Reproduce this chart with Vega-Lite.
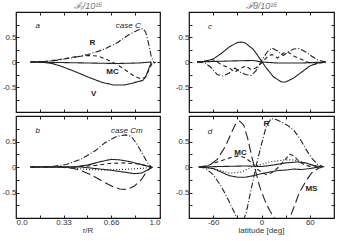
{
"$schema": "https://vega.github.io/schema/vega-lite/v6.json",
"padding": {"left": 1, "top": 0, "right": 4, "bottom": 0},
"background": "white",
"config": {
 "font": "Liberation Sans",
 "view": {"stroke": "#111", "strokeWidth": 1.2},
 "axis": {"domain": false, "grid": false, "tickColor": "#222", "tickSize": -3, "labelFontSize": 8, "labelColor": "#333", "titleFontSize": 8, "titleFontWeight": "normal", "titleColor": "#333", "labelPadding": 3, "titlePadding": 1},
 "concat": {"spacing": 0}
},
"datasets": {
 "lines": [
  {"p":"a","s":"R","x":0.1,"y":0},{"p":"a","s":"R","x":0.2,"y":0.01},{"p":"a","s":"R","x":0.3,"y":0.04},{"p":"a","s":"R","x":0.4,"y":0.09},{"p":"a","s":"R","x":0.5,"y":0.15},{"p":"a","s":"R","x":0.6,"y":0.24},{"p":"a","s":"R","x":0.7,"y":0.38},{"p":"a","s":"R","x":0.78,"y":0.54},{"p":"a","s":"R","x":0.84,"y":0.63},{"p":"a","s":"R","x":0.88,"y":0.67},{"p":"a","s":"R","x":0.9,"y":0.6},{"p":"a","s":"R","x":0.92,"y":0.38},{"p":"a","s":"R","x":0.94,"y":0.1},{"p":"a","s":"R","x":0.96,"y":-0.02},{"p":"a","s":"R","x":0.97,"y":0},
  {"p":"a","s":"MC","x":0.1,"y":0},{"p":"a","s":"MC","x":0.2,"y":0.01},{"p":"a","s":"MC","x":0.3,"y":0.05},{"p":"a","s":"MC","x":0.4,"y":0.1},{"p":"a","s":"MC","x":0.5,"y":0.13},{"p":"a","s":"MC","x":0.57,"y":0.12},{"p":"a","s":"MC","x":0.63,"y":0.05},{"p":"a","s":"MC","x":0.69,"y":-0.03},{"p":"a","s":"MC","x":0.75,"y":-0.14},{"p":"a","s":"MC","x":0.82,"y":-0.28},{"p":"a","s":"MC","x":0.87,"y":-0.34},{"p":"a","s":"MC","x":0.9,"y":-0.3},{"p":"a","s":"MC","x":0.93,"y":-0.12},{"p":"a","s":"MC","x":0.95,"y":0},
  {"p":"a","s":"V","x":0.1,"y":0},{"p":"a","s":"V","x":0.2,"y":-0.01},{"p":"a","s":"V","x":0.25,"y":-0.03},{"p":"a","s":"V","x":0.3,"y":-0.07},{"p":"a","s":"V","x":0.4,"y":-0.18},{"p":"a","s":"V","x":0.5,"y":-0.3},{"p":"a","s":"V","x":0.6,"y":-0.41},{"p":"a","s":"V","x":0.68,"y":-0.46},{"p":"a","s":"V","x":0.75,"y":-0.46},{"p":"a","s":"V","x":0.8,"y":-0.43},{"p":"a","s":"V","x":0.85,"y":-0.39},{"p":"a","s":"V","x":0.88,"y":-0.37},{"p":"a","s":"V","x":0.9,"y":-0.3},{"p":"a","s":"V","x":0.92,"y":-0.15},{"p":"a","s":"V","x":0.94,"y":0},
  {"p":"a","s":"S","x":0.1,"y":0},{"p":"a","s":"S","x":0.3,"y":-0.01},{"p":"a","s":"S","x":0.5,"y":-0.02},{"p":"a","s":"S","x":0.7,"y":-0.03},{"p":"a","s":"S","x":0.85,"y":-0.02},{"p":"a","s":"S","x":0.94,"y":0},

  {"p":"b","s":"R","x":0.1,"y":0},{"p":"b","s":"R","x":0.25,"y":0.01},{"p":"b","s":"R","x":0.35,"y":0.05},{"p":"b","s":"R","x":0.45,"y":0.15},{"p":"b","s":"R","x":0.55,"y":0.32},{"p":"b","s":"R","x":0.62,"y":0.48},{"p":"b","s":"R","x":0.7,"y":0.6},{"p":"b","s":"R","x":0.76,"y":0.63},{"p":"b","s":"R","x":0.8,"y":0.6},{"p":"b","s":"R","x":0.84,"y":0.45},{"p":"b","s":"R","x":0.88,"y":0.25},{"p":"b","s":"R","x":0.91,"y":0.1},{"p":"b","s":"R","x":0.94,"y":0},
  {"p":"b","s":"V","x":0.1,"y":0},{"p":"b","s":"V","x":0.4,"y":0},{"p":"b","s":"V","x":0.5,"y":0.04},{"p":"b","s":"V","x":0.58,"y":0.1},{"p":"b","s":"V","x":0.66,"y":0.15},{"p":"b","s":"V","x":0.72,"y":0.14},{"p":"b","s":"V","x":0.8,"y":0.1},{"p":"b","s":"V","x":0.87,"y":0.05},{"p":"b","s":"V","x":0.94,"y":0},
  {"p":"b","s":"MS","x":0.1,"y":0},{"p":"b","s":"MS","x":0.3,"y":0},{"p":"b","s":"MS","x":0.4,"y":-0.03},{"p":"b","s":"MS","x":0.45,"y":-0.07},{"p":"b","s":"MS","x":0.52,"y":-0.15},{"p":"b","s":"MS","x":0.6,"y":-0.28},{"p":"b","s":"MS","x":0.67,"y":-0.38},{"p":"b","s":"MS","x":0.72,"y":-0.43},{"p":"b","s":"MS","x":0.77,"y":-0.44},{"p":"b","s":"MS","x":0.82,"y":-0.38},{"p":"b","s":"MS","x":0.87,"y":-0.25},{"p":"b","s":"MS","x":0.91,"y":-0.08},{"p":"b","s":"MS","x":0.94,"y":0},
  {"p":"b","s":"MC","x":0.1,"y":0},{"p":"b","s":"MC","x":0.4,"y":0},{"p":"b","s":"MC","x":0.55,"y":0.03},{"p":"b","s":"MC","x":0.65,"y":0.07},{"p":"b","s":"MC","x":0.75,"y":0.08},{"p":"b","s":"MC","x":0.85,"y":0.06},{"p":"b","s":"MC","x":0.94,"y":0},
  {"p":"b","s":"T","x":0.3,"y":0},{"p":"b","s":"T","x":0.4,"y":-0.02},{"p":"b","s":"T","x":0.5,"y":-0.05},{"p":"b","s":"T","x":0.6,"y":-0.06},{"p":"b","s":"T","x":0.7,"y":-0.05},{"p":"b","s":"T","x":0.8,"y":-0.04},{"p":"b","s":"T","x":0.9,"y":-0.02},{"p":"b","s":"T","x":0.94,"y":0},
  {"p":"b","s":"S","x":0.1,"y":0},{"p":"b","s":"S","x":0.45,"y":0},{"p":"b","s":"S","x":0.55,"y":-0.03},{"p":"b","s":"S","x":0.65,"y":-0.06},{"p":"b","s":"S","x":0.75,"y":-0.1},{"p":"b","s":"S","x":0.82,"y":-0.13},{"p":"b","s":"S","x":0.87,"y":-0.12},{"p":"b","s":"S","x":0.92,"y":-0.05},{"p":"b","s":"S","x":0.95,"y":0},

  {"p":"c","s":"V","x":-80,"y":0},{"p":"c","s":"V","x":-70,"y":0.01},{"p":"c","s":"V","x":-60,"y":0.06},{"p":"c","s":"V","x":-50,"y":0.17},{"p":"c","s":"V","x":-40,"y":0.3},{"p":"c","s":"V","x":-30,"y":0.39},{"p":"c","s":"V","x":-25,"y":0.4},{"p":"c","s":"V","x":-20,"y":0.38},{"p":"c","s":"V","x":-10,"y":0.25},{"p":"c","s":"V","x":0,"y":0.02},{"p":"c","s":"V","x":5,"y":-0.1},{"p":"c","s":"V","x":15,"y":-0.3},{"p":"c","s":"V","x":25,"y":-0.4},{"p":"c","s":"V","x":30,"y":-0.4},{"p":"c","s":"V","x":40,"y":-0.32},{"p":"c","s":"V","x":50,"y":-0.2},{"p":"c","s":"V","x":60,"y":-0.08},{"p":"c","s":"V","x":70,"y":-0.02},{"p":"c","s":"V","x":80,"y":0},
  {"p":"c","s":"R","x":-80,"y":0},{"p":"c","s":"R","x":-70,"y":-0.02},{"p":"c","s":"R","x":-62,"y":-0.12},{"p":"c","s":"R","x":-55,"y":-0.25},{"p":"c","s":"R","x":-48,"y":-0.28},{"p":"c","s":"R","x":-40,"y":-0.22},{"p":"c","s":"R","x":-33,"y":-0.12},{"p":"c","s":"R","x":-27,"y":-0.2},{"p":"c","s":"R","x":-20,"y":-0.25},{"p":"c","s":"R","x":-13,"y":-0.27},{"p":"c","s":"R","x":-7,"y":-0.18},{"p":"c","s":"R","x":0,"y":0.02},{"p":"c","s":"R","x":7,"y":0.2},{"p":"c","s":"R","x":13,"y":0.28},{"p":"c","s":"R","x":20,"y":0.22},{"p":"c","s":"R","x":27,"y":0.13},{"p":"c","s":"R","x":33,"y":0.2},{"p":"c","s":"R","x":40,"y":0.26},{"p":"c","s":"R","x":47,"y":0.27},{"p":"c","s":"R","x":55,"y":0.2},{"p":"c","s":"R","x":62,"y":0.12},{"p":"c","s":"R","x":70,"y":0.04},{"p":"c","s":"R","x":80,"y":0},
  {"p":"c","s":"MC","x":-80,"y":0},{"p":"c","s":"MC","x":-70,"y":0.02},{"p":"c","s":"MC","x":-62,"y":0.05},{"p":"c","s":"MC","x":-58,"y":0.03},{"p":"c","s":"MC","x":-50,"y":-0.05},{"p":"c","s":"MC","x":-40,"y":-0.12},{"p":"c","s":"MC","x":-33,"y":-0.2},{"p":"c","s":"MC","x":-27,"y":-0.14},{"p":"c","s":"MC","x":-20,"y":-0.08},{"p":"c","s":"MC","x":-13,"y":-0.15},{"p":"c","s":"MC","x":-7,"y":-0.12},{"p":"c","s":"MC","x":0,"y":-0.02},{"p":"c","s":"MC","x":7,"y":0.1},{"p":"c","s":"MC","x":13,"y":0.15},{"p":"c","s":"MC","x":20,"y":0.08},{"p":"c","s":"MC","x":27,"y":0.18},{"p":"c","s":"MC","x":33,"y":0.2},{"p":"c","s":"MC","x":40,"y":0.12},{"p":"c","s":"MC","x":50,"y":0.05},{"p":"c","s":"MC","x":60,"y":-0.02},{"p":"c","s":"MC","x":65,"y":-0.05},{"p":"c","s":"MC","x":72,"y":-0.02},{"p":"c","s":"MC","x":80,"y":0},
  {"p":"c","s":"S","x":-80,"y":0},{"p":"c","s":"S","x":-40,"y":0.02},{"p":"c","s":"S","x":-10,"y":0.03},{"p":"c","s":"S","x":0,"y":0},{"p":"c","s":"S","x":20,"y":-0.02},{"p":"c","s":"S","x":50,"y":-0.02},{"p":"c","s":"S","x":80,"y":0},

  {"p":"d","s":"MS","x":-78,"y":0},{"p":"d","s":"MS","x":-65,"y":0.03},{"p":"d","s":"MS","x":-55,"y":0.15},{"p":"d","s":"MS","x":-45,"y":0.4},{"p":"d","s":"MS","x":-38,"y":0.65},{"p":"d","s":"MS","x":-32,"y":0.85},{"p":"d","s":"MS","x":-27,"y":0.9},{"p":"d","s":"MS","x":-22,"y":0.82},{"p":"d","s":"MS","x":-17,"y":0.55},{"p":"d","s":"MS","x":-12,"y":0.2},{"p":"d","s":"MS","x":-7,"y":-0.1},{"p":"d","s":"MS","x":-2,"y":-0.4},{"p":"d","s":"MS","x":4,"y":-0.65},{"p":"d","s":"MS","x":10,"y":-0.85},{"p":"d","s":"MS","x":16,"y":-1.0},{"p":"d","s":"MS","x":25,"y":-1.15},{"p":"d","s":"MS","x":35,"y":-1.0},{"p":"d","s":"MS","x":40,"y":-0.8},{"p":"d","s":"MS","x":47,"y":-0.5},{"p":"d","s":"MS","x":55,"y":-0.28},{"p":"d","s":"MS","x":62,"y":-0.12},{"p":"d","s":"MS","x":70,"y":-0.03},{"p":"d","s":"MS","x":76,"y":0},
  {"p":"d","s":"R","x":-78,"y":0},{"p":"d","s":"R","x":-70,"y":-0.02},{"p":"d","s":"R","x":-60,"y":-0.15},{"p":"d","s":"R","x":-50,"y":-0.38},{"p":"d","s":"R","x":-42,"y":-0.62},{"p":"d","s":"R","x":-35,"y":-0.85},{"p":"d","s":"R","x":-29,"y":-1.05},{"p":"d","s":"R","x":-24,"y":-1.1},{"p":"d","s":"R","x":-19,"y":-0.9},{"p":"d","s":"R","x":-13,"y":-0.45},{"p":"d","s":"R","x":-7,"y":0},{"p":"d","s":"R","x":0,"y":0.45},{"p":"d","s":"R","x":6,"y":0.8},{"p":"d","s":"R","x":12,"y":0.95},{"p":"d","s":"R","x":18,"y":0.93},{"p":"d","s":"R","x":25,"y":0.88},{"p":"d","s":"R","x":32,"y":0.82},{"p":"d","s":"R","x":40,"y":0.72},{"p":"d","s":"R","x":48,"y":0.55},{"p":"d","s":"R","x":55,"y":0.35},{"p":"d","s":"R","x":62,"y":0.18},{"p":"d","s":"R","x":70,"y":0.05},{"p":"d","s":"R","x":78,"y":0},
  {"p":"d","s":"MC","x":-75,"y":0},{"p":"d","s":"MC","x":-65,"y":0.04},{"p":"d","s":"MC","x":-55,"y":0.1},{"p":"d","s":"MC","x":-45,"y":0.15},{"p":"d","s":"MC","x":-35,"y":0.2},{"p":"d","s":"MC","x":-28,"y":0.22},{"p":"d","s":"MC","x":-20,"y":0.18},{"p":"d","s":"MC","x":-12,"y":0.08},{"p":"d","s":"MC","x":-5,"y":-0.05},{"p":"d","s":"MC","x":0,"y":-0.1},{"p":"d","s":"MC","x":6,"y":-0.15},{"p":"d","s":"MC","x":12,"y":-0.12},{"p":"d","s":"MC","x":20,"y":-0.02},{"p":"d","s":"MC","x":28,"y":0.12},{"p":"d","s":"MC","x":35,"y":0.25},{"p":"d","s":"MC","x":40,"y":0.22},{"p":"d","s":"MC","x":47,"y":0.1},{"p":"d","s":"MC","x":55,"y":0.03},{"p":"d","s":"MC","x":65,"y":0},{"p":"d","s":"MC","x":75,"y":0},
  {"p":"d","s":"T","x":-70,"y":0},{"p":"d","s":"T","x":-55,"y":-0.05},{"p":"d","s":"T","x":-40,"y":-0.12},{"p":"d","s":"T","x":-25,"y":-0.1},{"p":"d","s":"T","x":-12,"y":0},{"p":"d","s":"T","x":0,"y":0.05},{"p":"d","s":"T","x":10,"y":0.1},{"p":"d","s":"T","x":20,"y":0.12},{"p":"d","s":"T","x":30,"y":0.14},{"p":"d","s":"T","x":40,"y":0.14},{"p":"d","s":"T","x":50,"y":0.1},{"p":"d","s":"T","x":60,"y":0.05},{"p":"d","s":"T","x":70,"y":0},
  {"p":"d","s":"V","x":-75,"y":0},{"p":"d","s":"V","x":-60,"y":-0.03},{"p":"d","s":"V","x":-50,"y":-0.1},{"p":"d","s":"V","x":-40,"y":-0.17},{"p":"d","s":"V","x":-30,"y":-0.2},{"p":"d","s":"V","x":-20,"y":-0.2},{"p":"d","s":"V","x":-10,"y":-0.17},{"p":"d","s":"V","x":0,"y":-0.13},{"p":"d","s":"V","x":10,"y":-0.1},{"p":"d","s":"V","x":20,"y":-0.07},{"p":"d","s":"V","x":30,"y":-0.06},{"p":"d","s":"V","x":40,"y":-0.04},{"p":"d","s":"V","x":50,"y":-0.05},{"p":"d","s":"V","x":60,"y":-0.03},{"p":"d","s":"V","x":72,"y":0},
  {"p":"d","s":"S","x":-78,"y":0},{"p":"d","s":"S","x":-50,"y":0.01},{"p":"d","s":"S","x":-20,"y":0.02},{"p":"d","s":"S","x":0,"y":0.01},{"p":"d","s":"S","x":15,"y":0.04},{"p":"d","s":"S","x":30,"y":0.08},{"p":"d","s":"S","x":45,"y":0.1},{"p":"d","s":"S","x":55,"y":0.08},{"p":"d","s":"S","x":65,"y":0.03},{"p":"d","s":"S","x":75,"y":0}
 ],
 "labels": [
  {"p":"a","kind":"panel","x":0.15,"y":0.72,"t":"a"},{"p":"a","kind":"panel","x":0.78,"y":0.72,"t":"case C"},
  {"p":"a","kind":"series","x":0.53,"y":0.38,"t":"R"},{"p":"a","kind":"series","x":0.67,"y":-0.2,"t":"MC"},{"p":"a","kind":"series","x":0.54,"y":-0.64,"t":"V"},
  {"p":"b","kind":"panel","x":0.15,"y":0.7,"t":"b"},{"p":"b","kind":"panel","x":0.77,"y":0.7,"t":"case Cm"},
  {"p":"c","kind":"panel","x":-64,"y":0.71,"t":"c"},
  {"p":"d","kind":"panel","x":-64,"y":0.69,"t":"d"},
  {"p":"d","kind":"series","x":6,"y":0.84,"t":"R"},{"p":"d","kind":"series","x":-26,"y":0.28,"t":"MC"},{"p":"d","kind":"series","x":62,"y":-0.44,"t":"MS"}
 ]
},
"hconcat": [
 {"vconcat": [
  {"width": 144, "height": 100,
   "title": {"text": "ℱᵣ/10¹⁶", "fontSize": 9, "fontStyle": "italic", "fontWeight": "normal", "color": "#777", "offset": 1},
   "resolve": {"axis": {"x": "independent", "y": "independent"}},
   "layer": [
    {"data": {"name": "lines"}, "transform": [{"filter": "datum.p === 'a'"}],
     "mark": {"type": "line", "color": "#222", "strokeWidth": 1.1, "clip": true},
     "encoding": {
      "x": {"field": "x", "type": "quantitative", "scale": {"domain": [0, 1], "nice": false}, "axis": {"values": [0, 0.165, 0.33, 0.495, 0.66, 0.825, 1], "labels": false, "title": null}},
      "y": {"field": "y", "type": "quantitative", "scale": {"domain": [-1, 1], "nice": false}, "axis": {"values": [-0.75, -0.5, -0.25, 0, 0.25, 0.5, 0.75], "labelExpr": "datum.value == 0.5 ? '0.5' : datum.value == 0 ? '0' : datum.value == -0.5 ? '-0.5' : ''", "title": null}},
      "detail": {"field": "s"},
      "strokeDash": {"field": "s", "type": "nominal", "scale": {"domain": ["R", "MC", "MS", "V", "T", "S"], "range": [[6, 2, 1, 2], [4, 3], [9, 4], [1, 0], [1, 2], [1, 0]]}, "legend": null}
     }},
    {"data": {"name": "labels"}, "transform": [{"filter": "datum.p === 'a' && datum.kind === 'panel'"}],
     "mark": {"type": "text", "fontSize": 8, "fontStyle": "italic", "color": "#222"},
     "encoding": {
      "x": {"field": "x", "type": "quantitative", "axis": {"orient": "top", "values": [0, 0.165, 0.33, 0.495, 0.66, 0.825, 1], "labels": false, "title": null}},
      "y": {"field": "y", "type": "quantitative", "axis": {"orient": "right", "values": [-0.75, -0.5, -0.25, 0, 0.25, 0.5, 0.75], "labels": false, "title": null}},
      "text": {"field": "t"}
     }},
    {"data": {"name": "labels"}, "transform": [{"filter": "datum.p === 'a' && datum.kind === 'series'"}],
     "mark": {"type": "text", "fontSize": 8, "fontWeight": "bold", "color": "#222"},
     "encoding": {
      "x": {"field": "x", "type": "quantitative", "axis": null},
      "y": {"field": "y", "type": "quantitative", "axis": null},
      "text": {"field": "t"}
     }}
   ]},
  {"width": 144, "height": 102,
   "title": {"text": "r/R", "orient": "bottom", "fontSize": 8, "fontWeight": "normal", "color": "#333", "offset": 1},
   "resolve": {"axis": {"x": "independent", "y": "independent"}},
   "layer": [
    {"data": {"name": "lines"}, "transform": [{"filter": "datum.p === 'b'"}],
     "mark": {"type": "line", "color": "#222", "strokeWidth": 1.1, "clip": true},
     "encoding": {
      "x": {"field": "x", "type": "quantitative", "scale": {"domain": [0, 1], "nice": false}, "axis": {"values": [0, 0.165, 0.33, 0.495, 0.66, 0.825, 1], "labelExpr": "datum.value == 0 ? '0.0' : datum.value == 0.33 ? '0.33' : datum.value == 0.66 ? '0.66' : datum.value == 1 ? '1.0' : ''", "title": null}},
      "y": {"field": "y", "type": "quantitative", "scale": {"domain": [-1, 1], "nice": false}, "axis": {"values": [-0.75, -0.5, -0.25, 0, 0.25, 0.5, 0.75], "labelExpr": "datum.value == 0.5 ? '0.5' : datum.value == 0 ? '0' : datum.value == -0.5 ? '-0.5' : ''", "title": null}},
      "detail": {"field": "s"},
      "strokeDash": {"field": "s", "type": "nominal", "scale": {"domain": ["R", "MC", "MS", "V", "T", "S"], "range": [[6, 2, 1, 2], [4, 3], [9, 4], [1, 0], [1, 2], [1, 0]]}, "legend": null}
     }},
    {"data": {"name": "labels"}, "transform": [{"filter": "datum.p === 'b' && datum.kind === 'panel'"}],
     "mark": {"type": "text", "fontSize": 8, "fontStyle": "italic", "color": "#222"},
     "encoding": {
      "x": {"field": "x", "type": "quantitative", "axis": {"orient": "top", "values": [0, 0.165, 0.33, 0.495, 0.66, 0.825, 1], "labels": false, "title": null}},
      "y": {"field": "y", "type": "quantitative", "axis": {"orient": "right", "values": [-0.75, -0.5, -0.25, 0, 0.25, 0.5, 0.75], "labels": false, "title": null}},
      "text": {"field": "t"}
     }}
   ]}
 ]},
 {"vconcat": [
  {"width": 145, "height": 100,
   "title": {"text": "ℱθ/10¹⁶", "fontSize": 9, "fontStyle": "italic", "fontWeight": "normal", "color": "#777", "offset": 1},
   "resolve": {"axis": {"x": "independent", "y": "independent"}},
   "layer": [
    {"data": {"name": "lines"}, "transform": [{"filter": "datum.p === 'c'"}],
     "mark": {"type": "line", "color": "#222", "strokeWidth": 1.1, "clip": true},
     "encoding": {
      "x": {"field": "x", "type": "quantitative", "scale": {"domain": [-90, 90], "nice": false}, "axis": {"values": [-60, -30, 0, 30, 60], "labels": false, "title": null}},
      "y": {"field": "y", "type": "quantitative", "scale": {"domain": [-1, 1], "nice": false}, "axis": {"values": [-0.75, -0.5, -0.25, 0, 0.25, 0.5, 0.75], "labelExpr": "datum.value == 0.5 ? '0.5' : datum.value == 0 ? '0' : datum.value == -0.5 ? '-0.5' : ''", "title": null}},
      "detail": {"field": "s"},
      "strokeDash": {"field": "s", "type": "nominal", "scale": {"domain": ["R", "MC", "MS", "V", "T", "S"], "range": [[6, 2, 1, 2], [4, 3], [9, 4], [1, 0], [1, 2], [1, 0]]}, "legend": null}
     }},
    {"data": {"name": "labels"}, "transform": [{"filter": "datum.p === 'c' && datum.kind === 'panel'"}],
     "mark": {"type": "text", "fontSize": 8, "fontStyle": "italic", "color": "#222"},
     "encoding": {
      "x": {"field": "x", "type": "quantitative", "axis": {"orient": "top", "values": [-60, -30, 0, 30, 60], "labels": false, "title": null}},
      "y": {"field": "y", "type": "quantitative", "axis": {"orient": "right", "values": [-0.75, -0.5, -0.25, 0, 0.25, 0.5, 0.75], "labels": false, "title": null}},
      "text": {"field": "t"}
     }}
   ]},
  {"width": 145, "height": 102,
   "title": {"text": "latitude [deg]", "orient": "bottom", "fontSize": 8, "fontWeight": "normal", "color": "#333", "offset": 1},
   "resolve": {"axis": {"x": "independent", "y": "independent"}},
   "layer": [
    {"data": {"name": "lines"}, "transform": [{"filter": "datum.p === 'd'"}],
     "mark": {"type": "line", "color": "#222", "strokeWidth": 1.1, "clip": true},
     "encoding": {
      "x": {"field": "x", "type": "quantitative", "scale": {"domain": [-90, 90], "nice": false}, "axis": {"values": [-60, -30, 0, 30, 60], "labelExpr": "datum.value == -60 ? '-60' : datum.value == 0 ? '0' : datum.value == 60 ? '60' : ''", "title": null}},
      "y": {"field": "y", "type": "quantitative", "scale": {"domain": [-1, 1], "nice": false}, "axis": {"values": [-0.75, -0.5, -0.25, 0, 0.25, 0.5, 0.75], "labelExpr": "datum.value == 0.5 ? '0.5' : datum.value == 0 ? '0' : datum.value == -0.5 ? '-0.5' : ''", "title": null}},
      "detail": {"field": "s"},
      "strokeDash": {"field": "s", "type": "nominal", "scale": {"domain": ["R", "MC", "MS", "V", "T", "S"], "range": [[6, 2, 1, 2], [4, 3], [9, 4], [1, 0], [1, 2], [1, 0]]}, "legend": null}
     }},
    {"data": {"name": "labels"}, "transform": [{"filter": "datum.p === 'd' && datum.kind === 'panel'"}],
     "mark": {"type": "text", "fontSize": 8, "fontStyle": "italic", "color": "#222"},
     "encoding": {
      "x": {"field": "x", "type": "quantitative", "axis": {"orient": "top", "values": [-60, -30, 0, 30, 60], "labels": false, "title": null}},
      "y": {"field": "y", "type": "quantitative", "axis": {"orient": "right", "values": [-0.75, -0.5, -0.25, 0, 0.25, 0.5, 0.75], "labels": false, "title": null}},
      "text": {"field": "t"}
     }},
    {"data": {"name": "labels"}, "transform": [{"filter": "datum.p === 'd' && datum.kind === 'series'"}],
     "mark": {"type": "text", "fontSize": 8, "fontWeight": "bold", "color": "#222"},
     "encoding": {
      "x": {"field": "x", "type": "quantitative", "axis": null},
      "y": {"field": "y", "type": "quantitative", "axis": null},
      "text": {"field": "t"}
     }}
   ]}
 ]}
],
"spacing": 12
}
